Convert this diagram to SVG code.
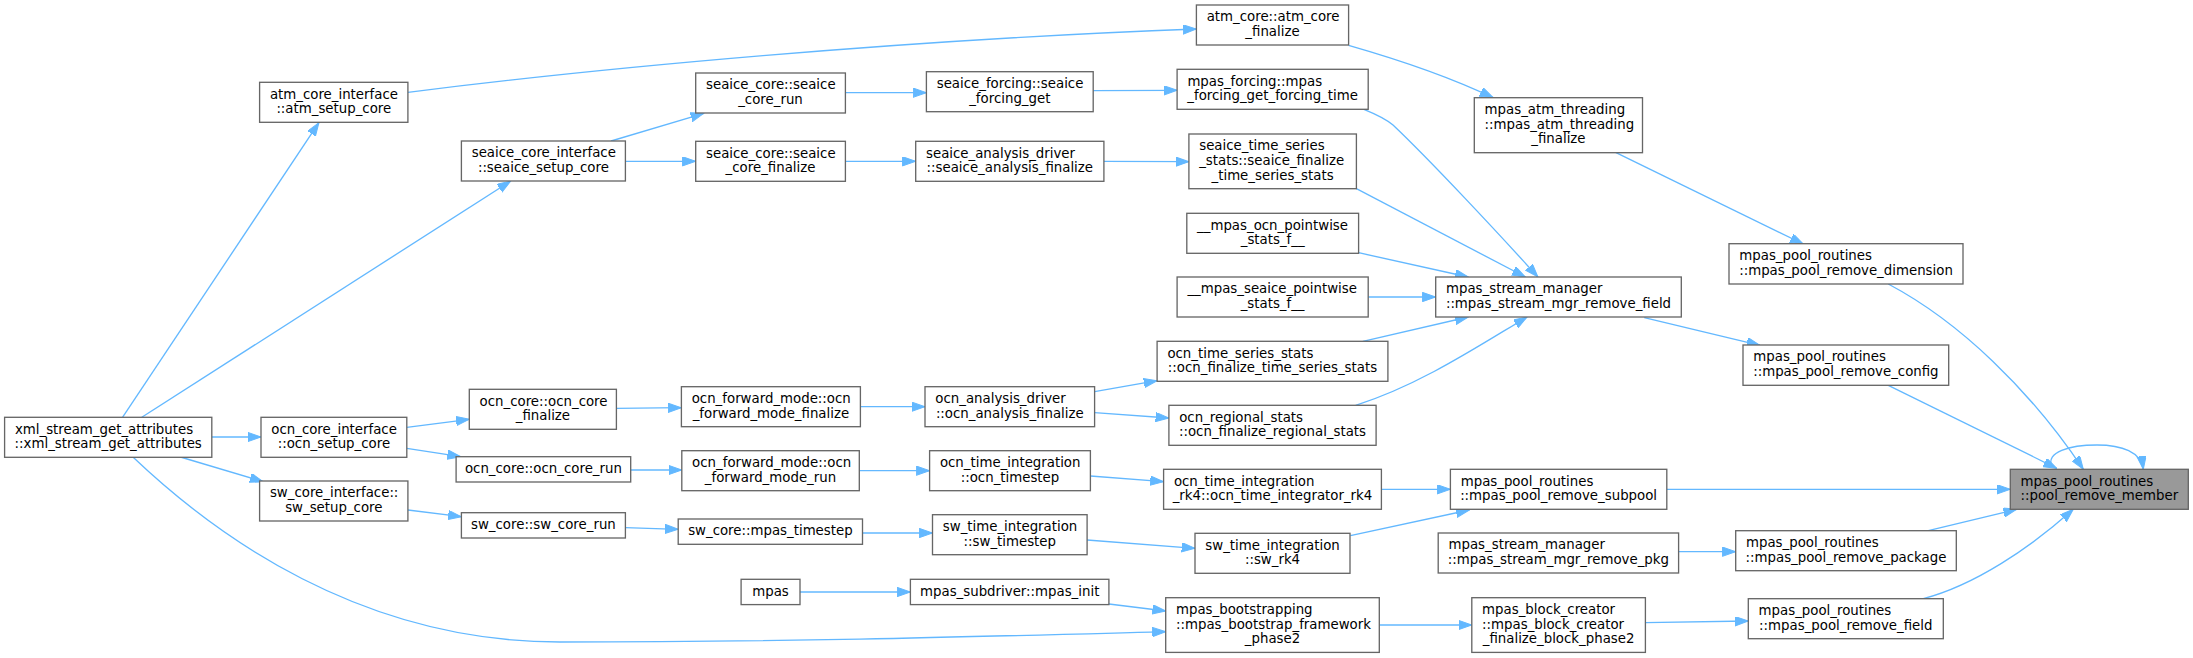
<svg xmlns="http://www.w3.org/2000/svg" width="2193" height="658" viewBox="0 0 2193 658">
<style>
.node rect{fill:#ffffff;stroke:#666666;stroke-width:1.33}
.node.hl rect{fill:#999999}
.node text{font-family:"DejaVu Sans","Liberation Sans",sans-serif;font-size:13.33px;fill:#000000}
.node text.m{text-anchor:middle}
.edge path{fill:none;stroke:#63b8ff;stroke-width:1.33;marker-end:url(#arr)}
</style>
<defs>
<marker id="arr" markerUnits="userSpaceOnUse" markerWidth="14" markerHeight="10" refX="13.3" refY="4.67" orient="auto">
<path d="M0,0 L13.3,4.67 L0,9.33 Z" fill="#63b8ff" stroke="#63b8ff" stroke-width="1"/>
</marker>
</defs>
<rect x="0" y="0" width="2193" height="658" fill="#ffffff"/>
<g id="edges" class="edge">
<path d="M122.5,417.3 L318.9,122.7"/>
<path d="M141.8,417.3 L510.7,181"/>
<path d="M211.8,437 L261,437"/>
<path d="M180.4,457 L263.2,481.7"/>
<path d="M132.9,457 C215,535 360,642 560,642 C800,642 1000,636 1165.7,631.7"/>
<path d="M407.9,92.3 C600,68 900,40 1196.4,29"/>
<path d="M611.1,141 L703.9,113.3"/>
<path d="M625.4,161.3 L695.7,161.3"/>
<path d="M845.4,92.7 L926.4,92.7"/>
<path d="M845.4,161.3 L915.7,161.3"/>
<path d="M1093.2,90.7 L1177.1,90.3"/>
<path d="M1103.9,161.3 L1188.9,161.7"/>
<path d="M406.8,427.3 L469.3,419.3"/>
<path d="M406.8,448.3 L460.7,456.7"/>
<path d="M407.9,510 L461.4,516.7"/>
<path d="M616.4,408.3 L681.4,407.7"/>
<path d="M860.4,406.7 L925,406.7"/>
<path d="M630.7,470 L681.8,470"/>
<path d="M859.3,470.7 L929.6,470.7"/>
<path d="M625.4,527.7 L678.2,529.3"/>
<path d="M862.5,533 L932.5,533"/>
<path d="M800,592 L910.4,592"/>
<path d="M1348.6,45.3 C1400,60 1450,77 1493.2,97.7"/>
<path d="M1363.9,109.3 C1373,113 1385,118 1393,125 C1430,160 1500,235 1537.9,277"/>
<path d="M1356.4,188.7 L1525.4,277"/>
<path d="M1358.6,252.7 L1468.2,277"/>
<path d="M1368.2,297 L1435.7,297"/>
<path d="M1094.6,391.7 L1157.1,380.7"/>
<path d="M1094.6,412.7 L1168.9,418"/>
<path d="M1362.9,341.3 L1468.2,317"/>
<path d="M1355.7,405.3 C1420,385 1480,345 1527.1,317"/>
<path d="M1090.4,476 L1163.6,481.7"/>
<path d="M1087.1,540 L1195,548.3"/>
<path d="M1381.4,489.3 L1450.4,489.3"/>
<path d="M1350.4,535.7 L1469.3,510"/>
<path d="M1108.9,604 L1165.7,611"/>
<path d="M1379.3,625 L1471.8,625"/>
<path d="M1616,152.7 L1803.3,244"/>
<path d="M1644.3,317.7 L1760,345.3"/>
<path d="M1678.6,551.7 L1735.7,551.7"/>
<path d="M1645.4,622.7 L1748.3,621"/>
<path d="M1888.3,284 C1960,322 2030,390 2083.3,469.3"/>
<path d="M1888.3,385.3 L2056.7,468.3"/>
<path d="M1666.8,489.3 L2010.3,489.3"/>
<path d="M1928.3,530.7 L2016.7,509.3"/>
<path d="M1923.3,598.7 C1975,585 2030,548 2073.3,509.3"/>
<path d="M2052,467 C2045,452 2070,445 2097,445 C2122,445 2141,452 2143.3,469.3"/>
</g>
<g id="n_xml" class="node"><rect x="4.6" y="417.3" width="207.2" height="40"/><text x="14.9" y="433.7">xml_stream_get_attributes</text><text class="m" x="108.2" y="448.4">::xml_stream_get_attributes</text></g>
<g id="n_atm_setup" class="node"><rect x="259.6" y="82.3" width="148.3" height="40"/><text x="269.9" y="98.7">atm_core_interface</text><text class="m" x="333.8" y="113.4">::atm_setup_core</text></g>
<g id="n_seaice_setup" class="node"><rect x="461.4" y="141" width="164" height="40"/><text x="471.7" y="157.4">seaice_core_interface</text><text class="m" x="543.4" y="172.1">::seaice_setup_core</text></g>
<g id="n_ocn_setup" class="node"><rect x="261" y="417.3" width="145.8" height="40"/><text x="271.3" y="433.7">ocn_core_interface</text><text class="m" x="333.9" y="448.4">::ocn_setup_core</text></g>
<g id="n_sw_setup" class="node"><rect x="259.6" y="481" width="148.3" height="40"/><text x="269.9" y="497.4">sw_core_interface::</text><text class="m" x="333.8" y="512.1">sw_setup_core</text></g>
<g id="n_seaice_run" class="node"><rect x="695.7" y="73" width="149.7" height="40"/><text x="706" y="89.4">seaice_core::seaice</text><text class="m" x="770.5" y="104.1">_core_run</text></g>
<g id="n_seaice_fin" class="node"><rect x="695.7" y="141.3" width="149.7" height="40"/><text x="706" y="157.7">seaice_core::seaice</text><text class="m" x="770.5" y="172.4">_core_finalize</text></g>
<g id="n_ocn_core_fin" class="node"><rect x="469.3" y="389.3" width="147.1" height="40"/><text x="479.6" y="405.7">ocn_core::ocn_core</text><text class="m" x="542.9" y="420.4">_finalize</text></g>
<g id="n_ocn_core_run" class="node"><rect x="456.1" y="456.7" width="174.6" height="25.3"/><text class="m" x="543.4" y="473.1">ocn_core::ocn_core_run</text></g>
<g id="n_sw_core_run" class="node"><rect x="461.4" y="512.7" width="164" height="25.3"/><text class="m" x="543.4" y="529.1">sw_core::sw_core_run</text></g>
<g id="n_seaice_forcing" class="node"><rect x="926.4" y="71.7" width="166.8" height="40"/><text x="936.7" y="88.1">seaice_forcing::seaice</text><text class="m" x="1009.8" y="102.8">_forcing_get</text></g>
<g id="n_seaice_anal" class="node"><rect x="915.7" y="141.3" width="188.2" height="40"/><text x="926" y="157.7">seaice_analysis_driver</text><text class="m" x="1009.8" y="172.4">::seaice_analysis_finalize</text></g>
<g id="n_ocn_fwd_fin" class="node"><rect x="681.4" y="386.7" width="179" height="40"/><text x="691.7" y="403.1">ocn_forward_mode::ocn</text><text class="m" x="770.9" y="417.8">_forward_mode_finalize</text></g>
<g id="n_ocn_anal" class="node"><rect x="925" y="386.7" width="169.6" height="40"/><text x="935.3" y="403.1">ocn_analysis_driver</text><text class="m" x="1009.8" y="417.8">::ocn_analysis_finalize</text></g>
<g id="n_ocn_fwd_run" class="node"><rect x="681.8" y="450.7" width="177.5" height="40"/><text x="692.1" y="467.1">ocn_forward_mode::ocn</text><text class="m" x="770.5" y="481.8">_forward_mode_run</text></g>
<g id="n_ocn_timestep" class="node"><rect x="929.6" y="450.7" width="160.8" height="40"/><text x="939.9" y="467.1">ocn_time_integration</text><text class="m" x="1010" y="481.8">::ocn_timestep</text></g>
<g id="n_mpas_timestep" class="node"><rect x="678.2" y="519" width="184.3" height="25.3"/><text class="m" x="770.4" y="535.4">sw_core::mpas_timestep</text></g>
<g id="n_sw_timestep" class="node"><rect x="932.5" y="514.7" width="154.6" height="40"/><text x="942.8" y="531.1">sw_time_integration</text><text class="m" x="1009.8" y="545.8">::sw_timestep</text></g>
<g id="n_mpas" class="node"><rect x="741.1" y="579.3" width="58.9" height="25.3"/><text class="m" x="770.5" y="595.7">mpas</text></g>
<g id="n_mpas_init" class="node"><rect x="910.4" y="579.3" width="198.5" height="25.3"/><text class="m" x="1009.7" y="595.7">mpas_subdriver::mpas_init</text></g>
<g id="n_atm_core_fin" class="node"><rect x="1196.4" y="5" width="152.2" height="40"/><text x="1206.7" y="21.4">atm_core::atm_core</text><text class="m" x="1272.5" y="36.1">_finalize</text></g>
<g id="n_mpas_forcing" class="node"><rect x="1177.1" y="69.3" width="191.1" height="40"/><text x="1187.4" y="85.7">mpas_forcing::mpas</text><text class="m" x="1272.6" y="100.4">_forcing_get_forcing_time</text></g>
<g id="n_seaice_ts" class="node"><rect x="1188.9" y="134" width="167.5" height="54.7"/><text x="1199.2" y="150.4">seaice_time_series</text><text x="1199.2" y="165.1">_stats::seaice_finalize</text><text class="m" x="1272.6" y="179.7">_time_series_stats</text></g>
<g id="n_ocn_pw" class="node"><rect x="1186.8" y="213.3" width="171.8" height="40"/><text x="1197.1" y="229.7">__mpas_ocn_pointwise</text><text class="m" x="1272.7" y="244.4">_stats_f__</text></g>
<g id="n_seaice_pw" class="node"><rect x="1177.1" y="277" width="191.1" height="40"/><text x="1187.4" y="293.4">__mpas_seaice_pointwise</text><text class="m" x="1272.6" y="308.1">_stats_f__</text></g>
<g id="n_stream_field" class="node"><rect x="1435.7" y="277" width="245.6" height="40"/><text x="1446" y="293.4">mpas_stream_manager</text><text class="m" x="1558.5" y="308.1">::mpas_stream_mgr_remove_field</text></g>
<g id="n_atm_thr" class="node"><rect x="1474.3" y="97.7" width="168.2" height="55"/><text x="1484.6" y="114.1">mpas_atm_threading</text><text x="1484.6" y="128.8">::mpas_atm_threading</text><text class="m" x="1558.4" y="143.4">_finalize</text></g>
<g id="n_ocn_ts" class="node"><rect x="1157.1" y="341.3" width="230.8" height="40"/><text x="1167.4" y="357.7">ocn_time_series_stats</text><text class="m" x="1272.5" y="372.4">::ocn_finalize_time_series_stats</text></g>
<g id="n_ocn_reg" class="node"><rect x="1168.9" y="405.3" width="207.2" height="40"/><text x="1179.2" y="421.7">ocn_regional_stats</text><text class="m" x="1272.5" y="436.4">::ocn_finalize_regional_stats</text></g>
<g id="n_rk4" class="node"><rect x="1163.6" y="469.3" width="217.8" height="40"/><text x="1173.9" y="485.7">ocn_time_integration</text><text class="m" x="1272.5" y="500.4">_rk4::ocn_time_integrator_rk4</text></g>
<g id="n_subpool" class="node"><rect x="1450.4" y="469.3" width="216.4" height="40"/><text x="1460.7" y="485.7">mpas_pool_routines</text><text class="m" x="1558.6" y="500.4">::mpas_pool_remove_subpool</text></g>
<g id="n_sw_rk4" class="node"><rect x="1195" y="533.3" width="155" height="40"/><text x="1205.3" y="549.7">sw_time_integration</text><text class="m" x="1272.5" y="564.4">::sw_rk4</text></g>
<g id="n_pkg_mgr" class="node"><rect x="1438.2" y="533" width="240.4" height="40"/><text x="1448.5" y="549.4">mpas_stream_manager</text><text class="m" x="1558.4" y="564.1">::mpas_stream_mgr_remove_pkg</text></g>
<g id="n_bootstrap" class="node"><rect x="1165.7" y="597.7" width="213.6" height="54.7"/><text x="1176" y="614.1">mpas_bootstrapping</text><text x="1176" y="628.8">::mpas_bootstrap_framework</text><text class="m" x="1272.5" y="643.4">_phase2</text></g>
<g id="n_block" class="node"><rect x="1471.8" y="597.7" width="173.6" height="54.7"/><text x="1482.1" y="614.1">mpas_block_creator</text><text x="1482.1" y="628.8">::mpas_block_creator</text><text class="m" x="1558.6" y="643.4">_finalize_block_phase2</text></g>
<g id="n_dim" class="node"><rect x="1729" y="243.7" width="234" height="40.3"/><text x="1739.3" y="260.1">mpas_pool_routines</text><text class="m" x="1846" y="274.8">::mpas_pool_remove_dimension</text></g>
<g id="n_config" class="node"><rect x="1743" y="345" width="205.7" height="40.3"/><text x="1753.3" y="361.4">mpas_pool_routines</text><text class="m" x="1845.9" y="376.1">::mpas_pool_remove_config</text></g>
<g id="n_member" class="node hl"><rect x="2010.3" y="469.3" width="178" height="40"/><text x="2020.6" y="485.7">mpas_pool_routines</text><text class="m" x="2099.3" y="500.4">::pool_remove_member</text></g>
<g id="n_package" class="node"><rect x="1735.7" y="530.7" width="220.6" height="40"/><text x="1746" y="547.1">mpas_pool_routines</text><text class="m" x="1846" y="561.8">::mpas_pool_remove_package</text></g>
<g id="n_field" class="node"><rect x="1748.3" y="598.7" width="195" height="40"/><text x="1758.6" y="615.1">mpas_pool_routines</text><text class="m" x="1845.8" y="629.8">::mpas_pool_remove_field</text></g>
</svg>
